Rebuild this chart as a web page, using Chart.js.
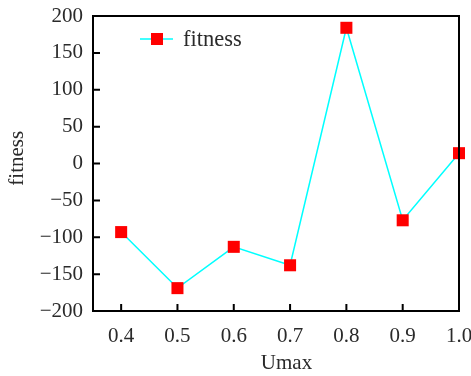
<!DOCTYPE html>
<html>
<head>
<meta charset="utf-8">
<script src="https://cdn.jsdelivr.net/npm/chart.js@4/dist/chart.umd.min.js"></script>
<style>
  html, body { margin: 0; padding: 0; background: #fff; }
  #wrap { width: 471px; height: 376px; }
</style>
</head>
<body>
<div id="wrap"><canvas id="c" width="471" height="376"></canvas></div>
<script>
// data
const umax = [0.4, 0.5, 0.6, 0.7, 0.8, 0.9, 1.0];
const fitness = [-93, -169, -113, -138, 184, -77, 14];
const xTicks = [0.4, 0.5, 0.6, 0.7, 0.8, 0.9, 1.0];
const yTicks = [-200, -150, -100, -50, 0, 50, 100, 150, 200];

const FONT = "'Liberation Serif', 'DejaVu Serif', serif";
const TEXT = '#2a2a2a';

// frame plus inward tick marks on left and bottom
const framePlugin = {
  id: 'frame',
  afterDraw(chart) {
    const { ctx, chartArea: a, scales } = chart;
    ctx.save();
    ctx.strokeStyle = '#000';
    ctx.lineWidth = 2;
    ctx.strokeRect(a.left, a.top, a.right - a.left, a.bottom - a.top);
    ctx.beginPath();
    xTicks.forEach(v => {
      const px = scales.x.getPixelForValue(v);
      if (px > a.left + 2 && px < a.right - 2) {
        ctx.moveTo(px, a.bottom);
        ctx.lineTo(px, a.bottom - 7);
      }
    });
    yTicks.forEach(v => {
      const py = scales.y.getPixelForValue(v);
      if (py > a.top + 2 && py < a.bottom - 2) {
        ctx.moveTo(a.left, py);
        ctx.lineTo(a.left + 7, py);
      }
    });
    ctx.stroke();
    ctx.restore();
  }
};

// legend: line through a square marker, then the label
const legendPlugin = {
  id: 'myLegend',
  afterDraw(chart) {
    const { ctx } = chart;
    const ds = chart.data.datasets[0];
    const y = 39;
    ctx.save();
    ctx.strokeStyle = ds.borderColor;
    ctx.lineWidth = 1.5;
    ctx.beginPath();
    ctx.moveTo(140, y);
    ctx.lineTo(173, y);
    ctx.stroke();
    ctx.fillStyle = ds.pointBackgroundColor;
    ctx.fillRect(151, y - 6, 12, 12);
    ctx.fillStyle = TEXT;
    ctx.font = '22.5px ' + FONT;
    ctx.textBaseline = 'middle';
    ctx.fillText(ds.label, 183, y + 1);
    ctx.restore();
  }
};

new Chart(document.getElementById('c'), {
  type: 'line',
  data: {
    datasets: [{
      label: 'fitness',
      data: umax.map((u, i) => ({ x: u, y: fitness[i] })),
      borderColor: '#00FFFF',
      borderWidth: 1.5,
      pointStyle: 'rect',
      pointRadius: 8.5,
      pointBackgroundColor: '#FF0000',
      pointBorderColor: '#FF0000',
      pointBorderWidth: 0,
      tension: 0,
      clip: false
    }]
  },
  options: {
    animation: false,
    responsive: false,
    devicePixelRatio: 1,
    layout: { padding: { left: 0, top: 16, right: 12, bottom: 0 } },
    plugins: {
      legend: { display: false },
      tooltip: { enabled: false }
    },
    scales: {
      x: {
        type: 'linear',
        min: 0.35,
        max: 1.0,
        afterBuildTicks: s => { s.ticks = xTicks.map(v => ({ value: v })); },
        afterFit: s => { s.height = 65; s.paddingLeft = 0; s.paddingRight = 0; },
        grid: { display: false, drawTicks: false },
        border: { display: false },
        ticks: {
          color: TEXT,
          padding: 13,
          font: { family: FONT, size: 21 },
          callback: v => v.toFixed(1)
        },
        title: {
          display: true,
          // en spaces nudge the centred title right, as in the source figure
          text: '\u2002\u2002Umax',
          color: TEXT,
          padding: { top: 0, bottom: 0 },
          font: { family: FONT, size: 21 }
        }
      },
      y: {
        min: -200,
        max: 200,
        afterBuildTicks: s => { s.ticks = yTicks.map(v => ({ value: v })); },
        afterFit: s => { s.width = 93; s.paddingTop = 0; s.paddingBottom = 0; },
        grid: { display: false, drawTicks: false },
        border: { display: false },
        ticks: {
          color: TEXT,
          padding: 10,
          font: { family: FONT, size: 21 },
          callback: v => String(v).replace('-', '\u2212')
        },
        title: {
          display: true,
          text: '\u2002fitness',
          color: TEXT,
          padding: { top: 5, bottom: 0 },
          font: { family: FONT, size: 21 }
        }
      }
    }
  },
  plugins: [framePlugin, legendPlugin]
});
</script>
</body>
</html>
